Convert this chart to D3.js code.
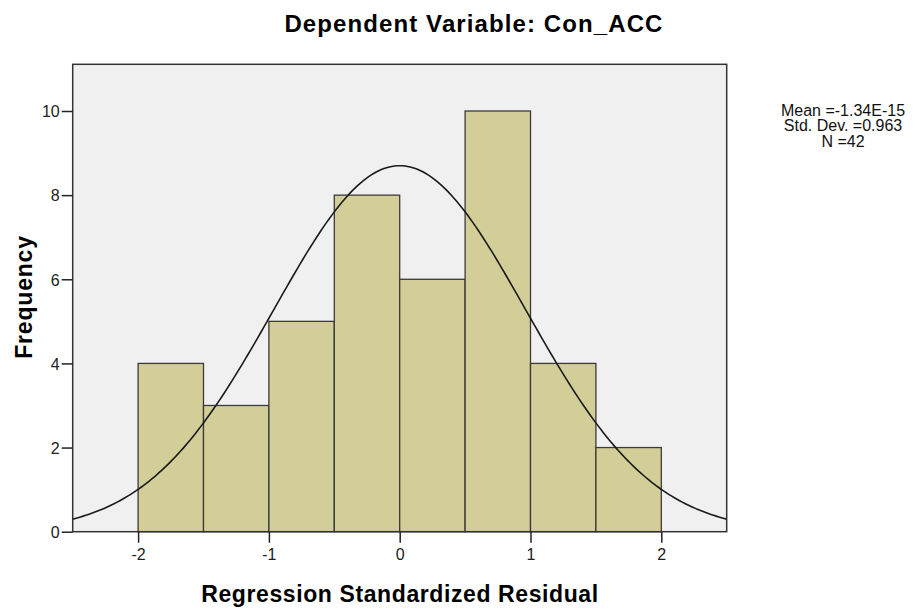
<!DOCTYPE html>
<html><head><meta charset="utf-8">
<script src="https://cdn.jsdelivr.net/npm/d3@7"></script>
<style>body{margin:0;background:#fff;font-family:"Liberation Sans",Arial,sans-serif}</style>
</head><body>
<svg id="c" width="915" height="610"></svg>
<script>
const binStarts = [-2, -1.5, -1, -0.5, 0, 0.5, 1, 1.5];
const binWidth = 0.5;
const frequencies = [4, 3, 5, 8, 6, 10, 4, 2];
const xTicks = [-2, -1, 0, 1, 2];
const yTicks = [0, 2, 4, 6, 8, 10];
const statMean = -1.34e-15, statSD = 0.963, statN = 42;
const legendLines = ["Mean =-1.34E-15", "Std. Dev. =0.963", "N =42"];

const svg = d3.select("#c");
const L = 72.7, R = 726.7, T = 64.3, B = 531.7;
const x = d3.scaleLinear().domain([-2.5, 2.5]).range([L, R]);
const y = d3.scaleLinear().domain([0, 11.11]).range([B, T]);

svg.append("rect").attr("x", L).attr("y", T).attr("width", R - L).attr("height", B - T)
  .attr("fill", "#f0f0f0");

svg.selectAll("rect.bar").data(binStarts).enter().append("rect").attr("class", "bar")
  .attr("x", d => x(d)).attr("width", d => x(d + binWidth) - x(d))
  .attr("y", (d, i) => y(frequencies[i])).attr("height", (d, i) => y(0) - y(frequencies[i]))
  .attr("fill", "#d3ce97").attr("stroke", "#3a3a3a").attr("stroke-width", 1.3);

// fitted normal curve from legend statistics
const pts = d3.range(-2.5, 2.5001, 0.02).map(v => [v,
  statN * binWidth / (statSD * Math.sqrt(2 * Math.PI)) * Math.exp(-0.5 * ((v - statMean) / statSD) ** 2)]);
svg.append("path").datum(pts).attr("fill", "none").attr("stroke", "#1a1a1a").attr("stroke-width", 1.6)
  .attr("d", d3.line().x(d => x(d[0])).y(d => y(d[1])));

svg.append("rect").attr("x", L).attr("y", T).attr("width", R - L).attr("height", B - T)
  .attr("fill", "none").attr("stroke", "#333").attr("stroke-width", 1.5);

const xa = svg.append("g").attr("transform", `translate(0,${B})`)
  .call(d3.axisBottom(x).tickValues(xTicks).tickSize(11).tickFormat(d => String(d)));
const ya = svg.append("g").attr("transform", `translate(${L},0)`)
  .call(d3.axisLeft(y).tickValues(yTicks).tickSize(11).tickFormat(d => String(d)));
[xa, ya].forEach(a => {
  a.select(".domain").remove();
  a.selectAll("line").attr("stroke", "#222").attr("stroke-width", 1.5);
  a.selectAll("text").attr("font-family", "Liberation Sans, Arial, sans-serif")
    .attr("font-size", 16).attr("fill", "#222");
});
xa.selectAll("text").attr("dy", 0).attr("y", 28.5);
ya.selectAll("text").attr("x", -13).attr("dy", "0.36em");

svg.append("text").attr("x", 474).attr("y", 32).attr("text-anchor", "middle")
  .attr("font-size", 24).attr("font-weight", "bold").attr("letter-spacing", 1.1)
  .text("Dependent Variable: Con_ACC");
svg.append("text").attr("x", 400).attr("y", 601.5).attr("text-anchor", "middle")
  .attr("font-size", 23).attr("font-weight", "bold").attr("letter-spacing", 0.6)
  .text("Regression Standardized Residual");
svg.append("text").attr("transform", "translate(32,297) rotate(-90)").attr("text-anchor", "middle")
  .attr("font-size", 23).attr("font-weight", "bold").attr("letter-spacing", 0.8).text("Frequency");

svg.append("g").selectAll("text").data(legendLines).enter().append("text")
  .attr("x", 843).attr("y", (d, i) => 115.5 + i * 15.5).attr("text-anchor", "middle")
  .attr("font-size", 16).attr("fill", "#111").text(d => d);
</script>
</body></html>
